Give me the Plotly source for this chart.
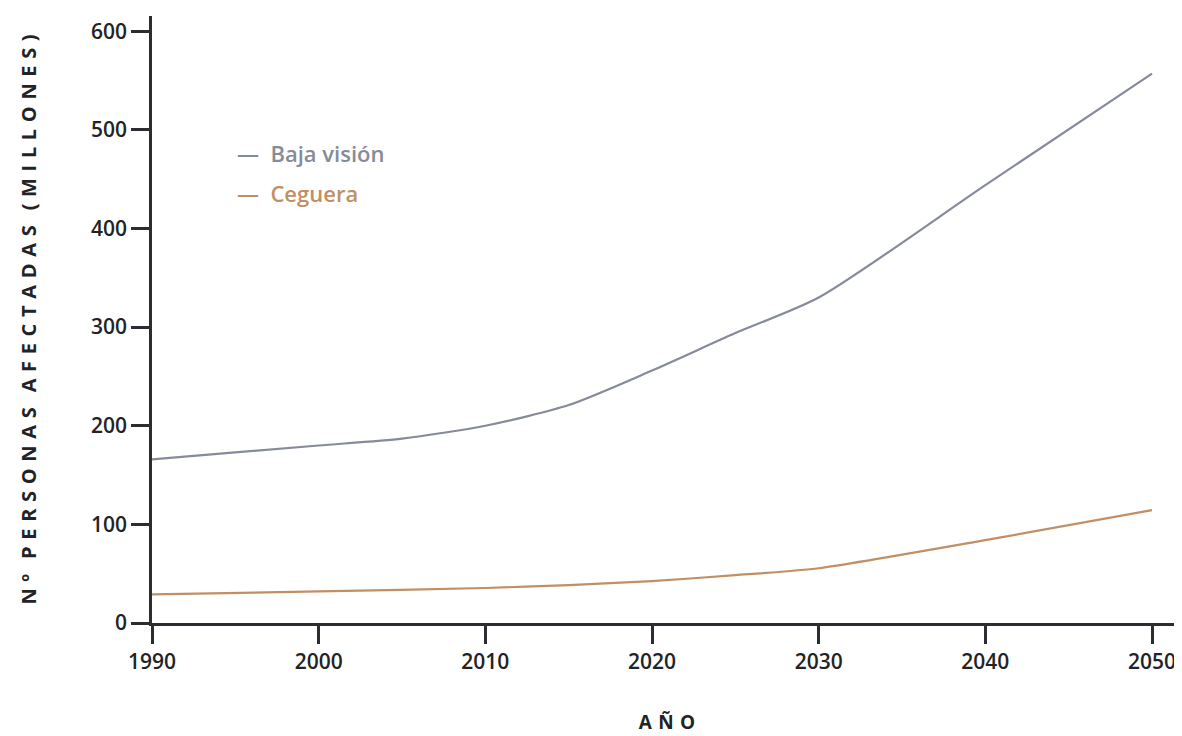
import plotly.graph_objects as go

years_bv = [1990, 2000, 2005, 2010, 2015, 2020, 2025, 2030, 2040, 2050]
baja_vision = [166, 180, 187, 200, 221, 256, 294, 330, 444, 557]

years_cg = [1990, 2000, 2010, 2015, 2020, 2025, 2030, 2040, 2050]
ceguera = [29, 32, 35.5, 38.5, 42.5, 48.5, 55.5, 84, 114.5]

x_ticks = [1990, 2000, 2010, 2020, 2030, 2040, 2050]
y_ticks = [0, 100, 200, 300, 400, 500, 600]

C_BV = "#868b99"
C_CG = "#c18f63"
AXIS = "#2b2d33"
TXT = "#222326"
FONT = "Open Sans"

LS = "\u2004"          # letter spacing
WS = "\u2002\u2005"    # word spacing

def spaced(s):
    words = s.split(" ")
    return WS.join(LS.join(w) for w in words)

y_title = spaced("Nº PERSONAS AFECTADAS (MILLONES)")

fig = go.Figure()
fig.add_trace(go.Scatter(x=years_bv, y=baja_vision, mode="lines", name="Baja visión",
                         line=dict(color=C_BV, width=2.2, shape="spline", smoothing=0.7),
                         showlegend=False))
fig.add_trace(go.Scatter(x=years_cg, y=ceguera, mode="lines", name="Ceguera",
                         line=dict(color=C_CG, width=2.2, shape="spline", smoothing=0.6),
                         showlegend=False))

PLOT_W = 1174 - 144
PLOT_H = 728 - 8 - 113
for i, (name, col) in enumerate([("Baja visión", C_BV), ("Ceguera", C_CG)]):
    fig.add_annotation(xref="paper", yref="paper", x=(234 - 151) / PLOT_W,
                       y=(623 - 153 - 40 * i) / PLOT_H,
                       text=f"—  {name}", showarrow=False, xanchor="left", yanchor="middle",
                       font=dict(family=FONT, size=22, color=col, weight=600))

fig.update_layout(
    width=1174, height=728,
    margin=dict(l=144, r=0, t=8, b=113),
    paper_bgcolor="white", plot_bgcolor="white",
    font=dict(family=FONT, color=TXT),
    xaxis=dict(range=[1990, 2051.8], tickvals=x_ticks, showgrid=False, zeroline=False,
               showline=True, linecolor=AXIS, linewidth=2.5,
               ticks="outside", ticklen=18, tickwidth=2.5, tickcolor=AXIS,
               tickfont=dict(family=FONT, size=21, color=TXT, weight=600),
               title=dict(text=spaced("AÑO"), standoff=42,
                          font=dict(family=FONT, size=19, color=TXT, weight=700))),
    yaxis=dict(range=[0, 615.5], tickvals=y_ticks, showgrid=False, zeroline=False,
               showline=True, linecolor=AXIS, linewidth=2.5,
               ticks="outside", ticklen=18, tickwidth=2.5, tickcolor=AXIS,
               tickfont=dict(family=FONT, size=21, color=TXT, weight=600),
               title=dict(text=y_title, standoff=50,
                          font=dict(family=FONT, size=20, color=TXT, weight=700))),
)

fig.write_html("out.html")
